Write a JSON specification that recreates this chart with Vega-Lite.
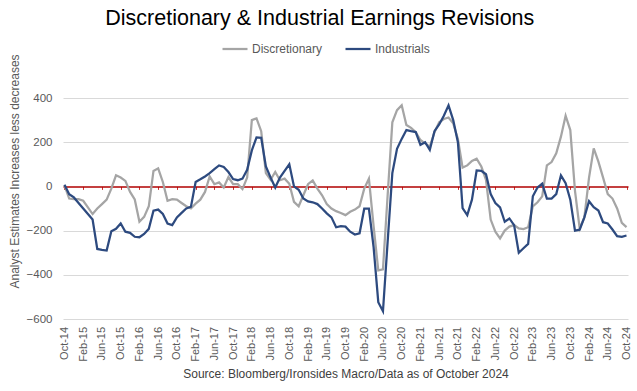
{
  "$schema": "https://vega.github.io/schema/vega-lite/v6.json",
  "width": 565,
  "height": 221,
  "autosize": {"type": "none"},
  "padding": {"left": 63, "top": 98, "right": 9, "bottom": 72},
  "background": "#ffffff",
  "config": {"view": {"stroke": null}, "font": "Liberation Sans"},
  "title": {"text": "Discretionary & Industrial Earnings Revisions", "font": "Liberation Sans", "fontSize": 21.5, "fontWeight": "normal", "color": "#000000", "anchor": "middle", "frame": "bounds", "offset": 6},
  "data": {"values": [
    {"m":"Oct-14","Discretionary":5,"Industrials":8},
    {"m":"Nov-14","Discretionary":-55,"Industrials":-35},
    {"m":"Dec-14","Discretionary":-58,"Industrials":-50},
    {"m":"Jan-15","Discretionary":-58,"Industrials":-75},
    {"m":"Feb-15","Discretionary":-65,"Industrials":-100},
    {"m":"Mar-15","Discretionary":-95,"Industrials":-125},
    {"m":"Apr-15","Discretionary":-125,"Industrials":-150},
    {"m":"May-15","Discretionary":-100,"Industrials":-283},
    {"m":"Jun-15","Discretionary":-80,"Industrials":-287},
    {"m":"Jul-15","Discretionary":-60,"Industrials":-290},
    {"m":"Aug-15","Discretionary":-10,"Industrials":-203},
    {"m":"Sep-15","Discretionary":50,"Industrials":-192},
    {"m":"Oct-15","Discretionary":40,"Industrials":-168},
    {"m":"Nov-15","Discretionary":25,"Industrials":-205},
    {"m":"Dec-15","Discretionary":-25,"Industrials":-210},
    {"m":"Jan-16","Discretionary":-59,"Industrials":-228},
    {"m":"Feb-16","Discretionary":-160,"Industrials":-230},
    {"m":"Mar-16","Discretionary":-138,"Industrials":-215},
    {"m":"Apr-16","Discretionary":-90,"Industrials":-192},
    {"m":"May-16","Discretionary":70,"Industrials":-110},
    {"m":"Jun-16","Discretionary":82,"Industrials":-105},
    {"m":"Jul-16","Discretionary":20,"Industrials":-125},
    {"m":"Aug-16","Discretionary":-65,"Industrials":-168},
    {"m":"Sep-16","Discretionary":-58,"Industrials":-175},
    {"m":"Oct-16","Discretionary":-60,"Industrials":-140},
    {"m":"Nov-16","Discretionary":-75,"Industrials":-120},
    {"m":"Dec-16","Discretionary":-90,"Industrials":-100},
    {"m":"Jan-17","Discretionary":-100,"Industrials":-92},
    {"m":"Feb-17","Discretionary":-78,"Industrials":20},
    {"m":"Mar-17","Discretionary":-60,"Industrials":32},
    {"m":"Apr-17","Discretionary":-25,"Industrials":45},
    {"m":"May-17","Discretionary":45,"Industrials":60},
    {"m":"Jun-17","Discretionary":10,"Industrials":78},
    {"m":"Jul-17","Discretionary":18,"Industrials":95},
    {"m":"Aug-17","Discretionary":-5,"Industrials":88},
    {"m":"Sep-17","Discretionary":42,"Industrials":65},
    {"m":"Oct-17","Discretionary":10,"Industrials":33},
    {"m":"Nov-17","Discretionary":10,"Industrials":28},
    {"m":"Dec-17","Discretionary":-12,"Industrials":35},
    {"m":"Jan-18","Discretionary":40,"Industrials":75},
    {"m":"Feb-18","Discretionary":300,"Industrials":163},
    {"m":"Mar-18","Discretionary":308,"Industrials":222},
    {"m":"Apr-18","Discretionary":250,"Industrials":220},
    {"m":"May-18","Discretionary":60,"Industrials":90},
    {"m":"Jun-18","Discretionary":30,"Industrials":40},
    {"m":"Jul-18","Discretionary":65,"Industrials":-5},
    {"m":"Aug-18","Discretionary":28,"Industrials":40},
    {"m":"Sep-18","Discretionary":35,"Industrials":70},
    {"m":"Oct-18","Discretionary":12,"Industrials":100},
    {"m":"Nov-18","Discretionary":-70,"Industrials":0},
    {"m":"Dec-18","Discretionary":-90,"Industrials":-15},
    {"m":"Jan-19","Discretionary":-40,"Industrials":-55},
    {"m":"Feb-19","Discretionary":10,"Industrials":-68},
    {"m":"Mar-19","Discretionary":27,"Industrials":-72},
    {"m":"Apr-19","Discretionary":-10,"Industrials":-80},
    {"m":"May-19","Discretionary":-40,"Industrials":-100},
    {"m":"Jun-19","Discretionary":-80,"Industrials":-122},
    {"m":"Jul-19","Discretionary":-100,"Industrials":-140},
    {"m":"Aug-19","Discretionary":-112,"Industrials":-185},
    {"m":"Sep-19","Discretionary":-120,"Industrials":-180},
    {"m":"Oct-19","Discretionary":-130,"Industrials":-182},
    {"m":"Nov-19","Discretionary":-115,"Industrials":-205},
    {"m":"Dec-19","Discretionary":-105,"Industrials":-218},
    {"m":"Jan-20","Discretionary":-90,"Industrials":-212},
    {"m":"Feb-20","Discretionary":-10,"Industrials":-101},
    {"m":"Mar-20","Discretionary":35,"Industrials":-101},
    {"m":"Apr-20","Discretionary":-180,"Industrials":-275},
    {"m":"May-20","Discretionary":-380,"Industrials":-524},
    {"m":"Jun-20","Discretionary":-375,"Industrials":-565},
    {"m":"Jul-20","Discretionary":-40,"Industrials":-250},
    {"m":"Aug-20","Discretionary":290,"Industrials":60},
    {"m":"Sep-20","Discretionary":345,"Industrials":170},
    {"m":"Oct-20","Discretionary":367,"Industrials":215},
    {"m":"Nov-20","Discretionary":278,"Industrials":255},
    {"m":"Dec-20","Discretionary":265,"Industrials":250},
    {"m":"Jan-21","Discretionary":245,"Industrials":246},
    {"m":"Feb-21","Discretionary":210,"Industrials":188},
    {"m":"Mar-21","Discretionary":195,"Industrials":200},
    {"m":"Apr-21","Discretionary":180,"Industrials":165},
    {"m":"May-21","Discretionary":245,"Industrials":250},
    {"m":"Jun-21","Discretionary":290,"Industrials":280},
    {"m":"Jul-21","Discretionary":305,"Industrials":320},
    {"m":"Aug-21","Discretionary":312,"Industrials":367},
    {"m":"Sep-21","Discretionary":285,"Industrials":300},
    {"m":"Oct-21","Discretionary":215,"Industrials":200},
    {"m":"Nov-21","Discretionary":85,"Industrials":-98},
    {"m":"Dec-21","Discretionary":95,"Industrials":-130},
    {"m":"Jan-22","Discretionary":115,"Industrials":-60},
    {"m":"Feb-22","Discretionary":125,"Industrials":72},
    {"m":"Mar-22","Discretionary":90,"Industrials":70},
    {"m":"Apr-22","Discretionary":30,"Industrials":55},
    {"m":"May-22","Discretionary":-150,"Industrials":-35},
    {"m":"Jun-22","Discretionary":-205,"Industrials":-75},
    {"m":"Jul-22","Discretionary":-235,"Industrials":-95},
    {"m":"Aug-22","Discretionary":-200,"Industrials":-160},
    {"m":"Sep-22","Discretionary":-182,"Industrials":-145},
    {"m":"Oct-22","Discretionary":-175,"Industrials":-175},
    {"m":"Nov-22","Discretionary":-190,"Industrials":-300},
    {"m":"Dec-22","Discretionary":-193,"Industrials":-280},
    {"m":"Jan-23","Discretionary":-185,"Industrials":-260},
    {"m":"Feb-23","Discretionary":-90,"Industrials":-45},
    {"m":"Mar-23","Discretionary":-72,"Industrials":-5},
    {"m":"Apr-23","Discretionary":-45,"Industrials":12},
    {"m":"May-23","Discretionary":95,"Industrials":-55},
    {"m":"Jun-23","Discretionary":110,"Industrials":-55},
    {"m":"Jul-23","Discretionary":150,"Industrials":-35},
    {"m":"Aug-23","Discretionary":225,"Industrials":50},
    {"m":"Sep-23","Discretionary":320,"Industrials":15},
    {"m":"Oct-23","Discretionary":255,"Industrials":-60},
    {"m":"Nov-23","Discretionary":-20,"Industrials":-200},
    {"m":"Dec-23","Discretionary":-190,"Industrials":-196},
    {"m":"Jan-24","Discretionary":-140,"Industrials":-140},
    {"m":"Feb-24","Discretionary":40,"Industrials":-67},
    {"m":"Mar-24","Discretionary":172,"Industrials":-94},
    {"m":"Apr-24","Discretionary":112,"Industrials":-109},
    {"m":"May-24","Discretionary":40,"Industrials":-162},
    {"m":"Jun-24","Discretionary":-35,"Industrials":-168},
    {"m":"Jul-24","Discretionary":-55,"Industrials":-195},
    {"m":"Aug-24","Discretionary":-100,"Industrials":-225},
    {"m":"Sep-24","Discretionary":-165,"Industrials":-228},
    {"m":"Oct-24","Discretionary":-184,"Industrials":-222}
  ]},
  "transform": [{"fold": ["Discretionary", "Industrials"], "as": ["series", "value"]}],
  "mark": {"type": "line", "strokeWidth": 2.25},
  "encoding": {
    "x": {
      "field": "m", "type": "ordinal", "sort": null,
      "scale": {"type": "point", "padding": 0.32},
      "axis": {
        "values": ["Oct-14","Feb-15","Jun-15","Oct-15","Feb-16","Jun-16","Oct-16","Feb-17","Jun-17","Oct-17","Feb-18","Jun-18","Oct-18","Feb-19","Jun-19","Oct-19","Feb-20","Jun-20","Oct-20","Feb-21","Jun-21","Oct-21","Feb-22","Jun-22","Oct-22","Feb-23","Jun-23","Oct-23","Feb-24","Jun-24","Oct-24"],
        "labelAngle": -90, "labelFontSize": 11, "labelColor": "#595959", "labelFont": "Liberation Sans",
        "offset": -132.6, "domainColor": "#b00000", "domainWidth": 1.5,
        "tickColor": "#c83030", "tickSize": 3, "tickWidth": 1,
        "labelPadding": 137, "grid": false, "zindex": 0,
        "title": "Source: Bloomberg/Ironsides Macro/Data as of October 2024",
        "titleFont": "Liberation Sans", "titleFontSize": 12, "titleFontWeight": "normal", "titleColor": "#404040", "titlePadding": 7
      }
    },
    "y": {
      "field": "value", "type": "quantitative",
      "scale": {"domain": [-600, 400], "nice": false, "zero": false},
      "axis": {
        "values": [-600, -400, -200, 0, 200, 400],
        "grid": true, "gridColor": "#d9d9d9", "gridWidth": 1,
        "gridOpacity": {"condition": {"test": "datum.value === 0", "value": 0}, "value": 1},
        "domain": false, "ticks": false, "tickSize": 0,
        "labelPadding": 11, "labelFontSize": 11.5, "labelColor": "#595959", "labelFont": "Liberation Sans",
        "title": "Analyst Estimates Increases less decreases",
        "titleFont": "Liberation Sans", "titleFontSize": 12, "titleFontWeight": "normal", "titleColor": "#595959",
        "titleY": 73, "titlePadding": 5, "zindex": 0
      }
    },
    "color": {
      "field": "series", "type": "nominal",
      "scale": {"domain": ["Discretionary", "Industrials"], "range": ["#a5a5a5", "#2d4a7f"]},
      "legend": {
        "title": null, "orient": "none", "direction": "horizontal", "legendX": 158, "legendY": -63,
        "symbolType": "stroke", "symbolSize": 625, "symbolStrokeWidth": 2.25,
        "labelFont": "Liberation Sans", "labelFontSize": 12, "labelColor": "#595959", "labelOffset": 3, "columnPadding": 18
      }
    }
  }
}
